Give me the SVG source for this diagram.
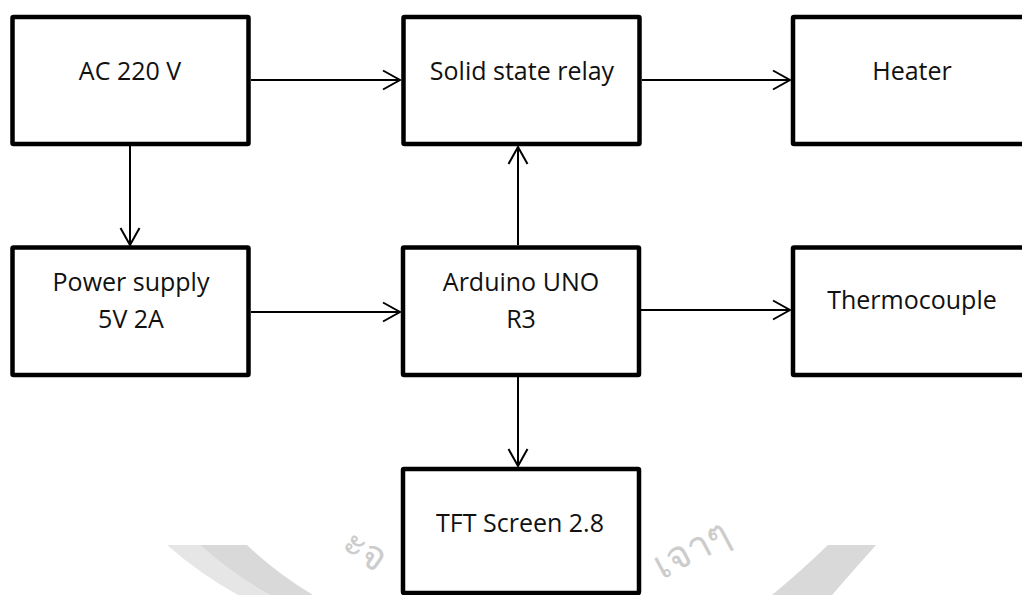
<svg xmlns="http://www.w3.org/2000/svg" width="1022" height="595" viewBox="0 0 1022 595">
  <style>
    .box { fill: #ffffff; stroke: #000000; stroke-width: 4.5; stroke-linejoin: round; }
    .lbl { font-family: "Open Sans", "Liberation Sans", sans-serif; font-size: 25px; fill: #111111; text-anchor: middle; }
    .conn { fill: none; stroke: #000000; stroke-width: 2; marker-end: url(#arrow); }
    .wm { fill: #d9d9d9; stroke: none; }
    .wml { fill: #e6e6e6; stroke: none; }
    .wmt { font-family: "Noto Sans", "DejaVu Sans", sans-serif; font-size: 40px; fill: #cccccc; }
  </style>
  <defs>
    <marker id="arrow" viewBox="0 0 20 22" refX="18" refY="11" markerWidth="20" markerHeight="22" markerUnits="userSpaceOnUse" orient="auto">
      <path d="M1,1.5 L18,11 L1,20.5" fill="none" stroke="#000000" stroke-width="2"/>
    </marker>
  </defs>
  <rect width="1022" height="595" fill="#ffffff"/>

  <g id="watermark">
    <path class="wml" d="M167,545 L200,545 Q232,574 270,595 L238,595 Q200,574 167,545 Z"/>
    <path class="wm" d="M200,545 L247,545 Q276,573 313,595 L270,595 Q232,574 200,545 Z"/>
    <path class="wm" d="M828,545 L876,545 Q852,572 832,595 L772,595 Q800,572 828,545 Z"/>
    <text class="wmt" transform="translate(340,548) rotate(35)">ะจ</text>
    <text class="wmt" transform="translate(662,580) rotate(-28)">เจาๆ</text>
  </g>

  <g id="connectors">
    <line class="conn" x1="251" y1="80" x2="400" y2="80"/>
    <line class="conn" x1="642" y1="80" x2="790" y2="80"/>
    <line class="conn" x1="130" y1="146" x2="130" y2="245"/>
    <line class="conn" x1="251" y1="312" x2="400" y2="312"/>
    <line class="conn" x1="518" y1="245" x2="518" y2="147"/>
    <line class="conn" x1="641" y1="310" x2="790" y2="310"/>
    <line class="conn" x1="518" y1="377" x2="518" y2="466"/>
  </g>

  <g id="ac220">
    <rect class="box" x="12.5" y="17" width="236" height="127" rx="1"/>
    <text class="lbl" x="130" y="80">AC 220 V</text>
  </g>
  <g id="ssr">
    <rect class="box" x="403.5" y="17" width="236" height="127" rx="1"/>
    <text class="lbl" x="522" y="80">Solid state relay</text>
  </g>
  <g id="heater">
    <rect class="box" x="793" y="17" width="245" height="127" rx="1"/>
    <text class="lbl" x="912" y="80">Heater</text>
  </g>
  <g id="power">
    <rect class="box" x="12.5" y="247.5" width="236" height="127.5" rx="1"/>
    <text class="lbl" x="131" y="291">Power supply</text>
    <text class="lbl" x="131" y="328">5V 2A</text>
  </g>
  <g id="arduino">
    <rect class="box" x="403" y="247.5" width="236" height="127.5" rx="1"/>
    <text class="lbl" x="521" y="291">Arduino UNO</text>
    <text class="lbl" x="521" y="328">R3</text>
  </g>
  <g id="thermo">
    <rect class="box" x="793" y="247.5" width="245" height="127.5" rx="1"/>
    <text class="lbl" x="912" y="309">Thermocouple</text>
  </g>
  <g id="tft">
    <rect class="box" x="403" y="469" width="236" height="124" rx="1"/>
    <text class="lbl" x="520" y="532">TFT Screen 2.8</text>
  </g>
</svg>
